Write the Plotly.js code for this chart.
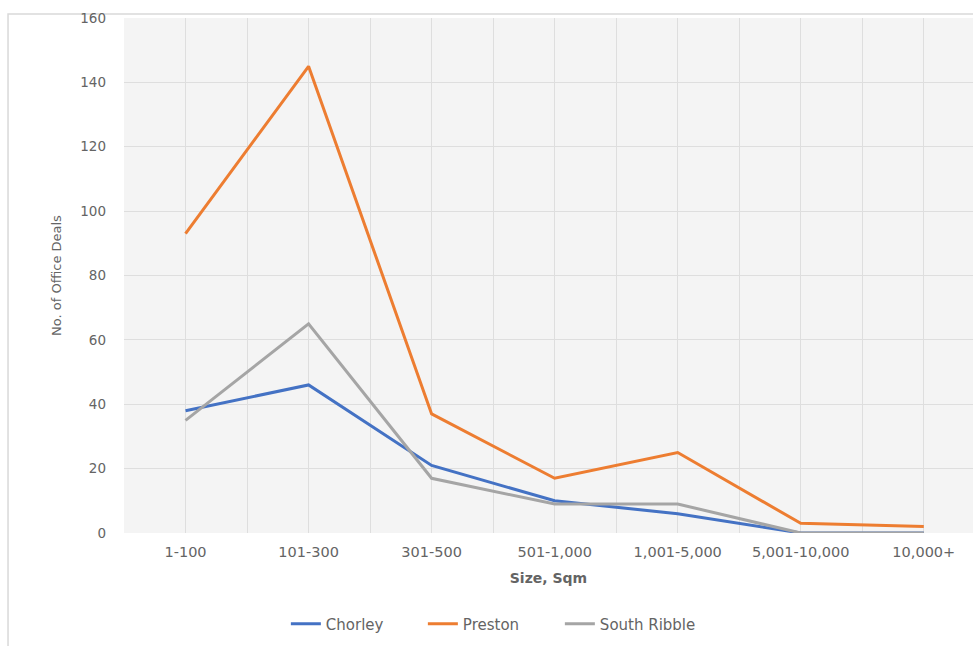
<!DOCTYPE html>
<html>
<head>
<meta charset="utf-8">
<script src="https://cdn.plot.ly/plotly-3.0.1.min.js"></script>
<style>html,body{margin:0;padding:0;background:#fff;}#chart{width:973px;height:646px;}</style>
</head>
<body>
<div id="chart"></div>
<script>
var categories = ["1-100", "101-300", "301-500", "501-1,000", "1,001-5,000", "5,001-10,000", "10,000+"];
var chorley = [38, 46, 21, 10, 6, 0, 0];
var preston = [93, 145, 37, 17, 25, 3, 2];
var southRibble = [35, 65, 17, 9, 9, 0, 0];
var yTicks = [0, 20, 40, 60, 80, 100, 120, 140, 160];

var font = "DejaVu Sans, sans-serif";
var grey = "#646464";

var traces = [
  {x: categories, y: chorley, name: "Chorley", type: "scatter", mode: "lines",
   line: {color: "#4472C4", width: 3}},
  {x: categories, y: preston, name: "Preston", type: "scatter", mode: "lines",
   line: {color: "#ED7D31", width: 3}},
  {x: categories, y: southRibble, name: "South Ribble", type: "scatter", mode: "lines",
   line: {color: "#A5A5A5", width: 3}},
  {x: categories, y: chorley, xaxis: "x2", yaxis: "y", type: "scatter", mode: "lines",
   line: {width: 0}, hoverinfo: "skip", showlegend: false, opacity: 0}
];

var layout = {
  width: 973, height: 646,
  margin: {l: 124, r: 0, t: 18, b: 113},
  paper_bgcolor: "#ffffff",
  plot_bgcolor: "#f4f4f4",
  font: {family: font, size: 13, color: grey},
  showlegend: true,
  legend: {orientation: "h", xref: "container", yref: "container", x: 0.505, y: 0.034,
           xanchor: "center", yanchor: "middle", font: {size: 15, color: grey, family: font},
           entrywidth: 92, entrywidthmode: "pixels", traceorder: "normal"},
  xaxis: {type: "category", range: [-0.5, 6.4], tickson: "boundaries", showgrid: true,
          gridcolor: "#dedede", gridwidth: 1, ticks: "", showline: false, zeroline: false,
          tickfont: {size: 14.5, color: grey, family: font}, ticklabelstandoff: 8,
          title: {text: "<b>Size, Sqm</b>", font: {size: 14, color: grey, family: font}, standoff: 14}},
  xaxis2: {type: "category", overlaying: "x", range: [-0.5, 6.4], showgrid: true,
           gridcolor: "#dedede", gridwidth: 1, showticklabels: false, ticks: "",
           showline: false, zeroline: false},
  yaxis: {range: [0, 160], tickvals: yTicks, showgrid: true, gridcolor: "#dedede",
          gridwidth: 1, zeroline: false, showline: false, ticks: "",
          tickfont: {size: 13.5, color: grey, family: font}, ticklabelstandoff: 17,
          title: {text: "No. of Office Deals", font: {size: 13, color: grey, family: font}, standoff: 15}},
  shapes: [
    {type: "rect", xref: "paper", yref: "paper", x0: -0.1366, x1: 1.02, y0: -0.3, y1: 1.0078,
     line: {color: "#d9d9d9", width: 1.5}, fillcolor: "rgba(0,0,0,0)", layer: "below"}
  ]
};

Plotly.newPlot("chart", traces, layout, {displayModeBar: false, staticPlot: true});
</script>
</body>
</html>
